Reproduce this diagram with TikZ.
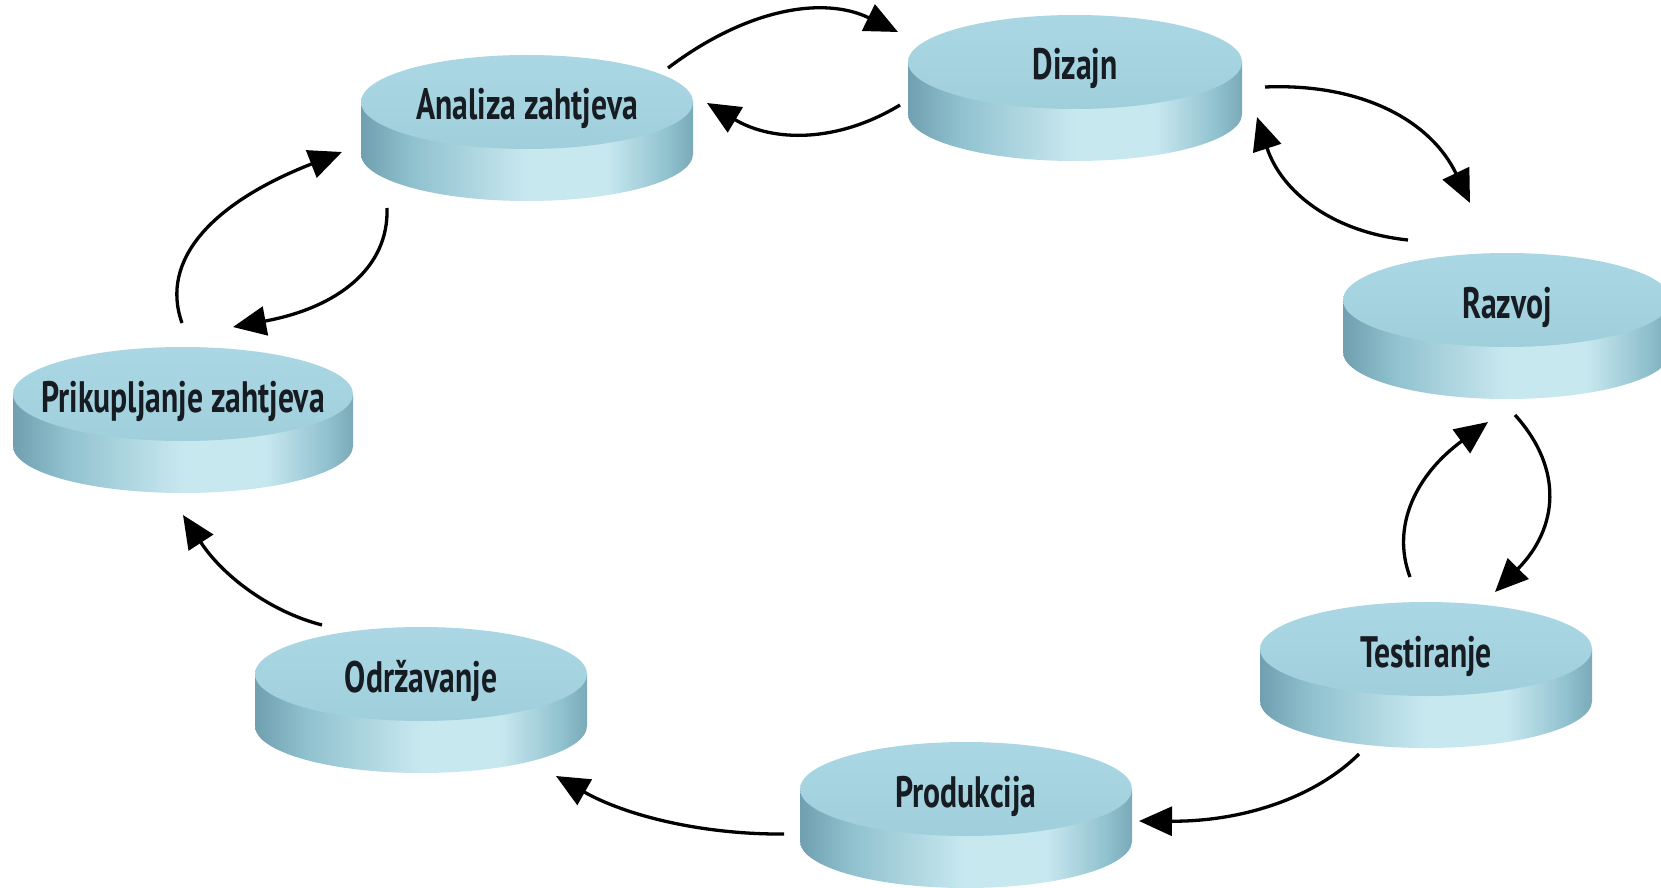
\documentclass[tikz,border=0pt]{standalone}
\usepackage{fontspec}
\usetikzlibrary{arrows.meta,calc}
\newfontfamily\labfont{PT Sans}[FakeStretch=0.72]
\definecolor{sideD}{RGB}{112,160,176}
\definecolor{sideM}{RGB}{145,194,207}
\definecolor{sideL}{RGB}{200,232,240}
\definecolor{sideR}{RGB}{122,170,184}
\definecolor{topA}{RGB}{170,215,227}
\definecolor{topB}{RGB}{160,207,220}
\definecolor{txt}{RGB}{22,28,34}
\pgfdeclarehorizontalshading{diskside}{100bp}{color(0bp)=(sideD); color(25bp)=(sideD); color(33bp)=(sideM); color(50bp)=(sideL); color(62bp)=(sideL); color(71bp)=(sideM); color(75bp)=(sideR); color(100bp)=(sideR)}
\newcommand\mydisk[5]{% name, cx, top, a, label
  \pgfmathsetmacro\dcx{#2}\pgfmathsetmacro\dcy{#3+47}
  \shade[shading=diskside] (\dcx-#4,\dcy) rectangle (\dcx+#4,\dcy+52);
  \shade[shading=diskside] (\dcx,\dcy+52) ellipse[x radius=#4,y radius=47];
  \shade[top color=topA,bottom color=topB] (\dcx,\dcy) ellipse[x radius=#4,y radius=47];
  \node[lab,anchor=base] (#1) at (\dcx,\dcy+18) {#5};
}
\begin{document}
\begin{tikzpicture}[x=1pt,y=-1pt,
  lab/.style={font=\labfont\bfseries\fontsize{44}{50}\selectfont,text=txt,inner sep=0pt},
  arr/.style={line width=3.3pt,-{Triangle[length=33pt,width=29pt]}}]
\fill[white] (0,0) rectangle (1661,888);
\useasboundingbox (0,0) rectangle (1661,888);
\mydisk{anal}{527}{55}{166}{Analiza zahtjeva}
\mydisk{diz}{1075}{15}{167}{Dizajn}
\mydisk{raz}{1507}{253}{164}{Razvoj}
\mydisk{tes}{1426}{602}{166}{Testiranje}
\mydisk{pro}{966}{742}{166}{Produkcija}
\mydisk{odr}{421}{627}{166}{Održavanje}
\mydisk{pri}{183}{347}{170}{Prikupljanje zahtjeva}
% arrow end points and control points
\coordinate (a1s) at (668,68);  \coordinate (k1) at (787,-22); \coordinate (a1e) at (898,32);
\coordinate (a2s) at (900,105); \coordinate (k2) at (806,162); \coordinate (a2e) at (707,103);
\coordinate (a3s) at (1265,87); \coordinate (k3) at (1412,81); \coordinate (a3e) at (1470,203);
\coordinate (a4s) at (1408,240); \coordinate (k4) at (1293,228); \coordinate (a4e) at (1257,117);
\coordinate (a5s) at (1515,415); \coordinate (k5) at (1589,497); \coordinate (a5e) at (1495,592);
\coordinate (a6s) at (1410,577); \coordinate (k6) at (1381,500); \coordinate (a6e) at (1488,422);
\coordinate (a7s) at (1359,754); \coordinate (k7) at (1290,822); \coordinate (a7e) at (1139,821);
\coordinate (a8s) at (784,834); \coordinate (k8) at (660,835); \coordinate (a8e) at (556,776);
\coordinate (a9s) at (322,625); \coordinate (k9) at (241,604); \coordinate (a9e) at (183,515);
\coordinate (a10s) at (182,323); \coordinate (k10) at (148,228); \coordinate (a10e) at (342,152);
\coordinate (a11s) at (387,208); \coordinate (k11) at (390,298); \coordinate (a11e) at (233,327);
\foreach \i in {1,...,11}{
  \draw[arr] (a\i s) .. controls ($(a\i s)!0.6667!(k\i)$) and ($(a\i e)!0.6667!(k\i)$) .. (a\i e);
}
\end{tikzpicture}
\end{document}
